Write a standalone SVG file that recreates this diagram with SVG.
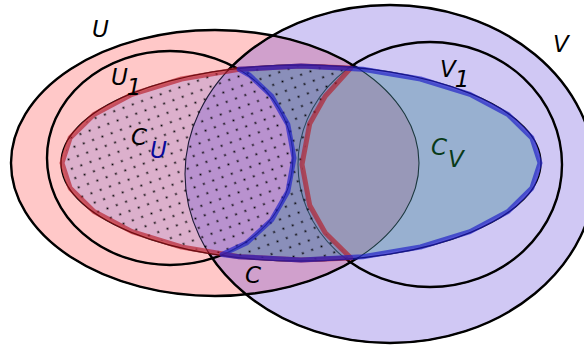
<svg xmlns="http://www.w3.org/2000/svg" width="584" height="347" viewBox="0 0 584 347">
<style>
.thin{fill:none;stroke:#000;stroke-width:1.1}
.thick{fill:none;stroke:#000;stroke-width:2.4}
.lbl{font-family:"DejaVu Sans",sans-serif;font-style:italic;font-size:23px;fill:#000}
.redband{fill:none;stroke:#b4141e;stroke-opacity:.62;stroke-width:5;stroke-linejoin:round}
.blueband{fill:none;stroke:#1e1ec8;stroke-opacity:.68;stroke-width:5;stroke-linejoin:round}
</style>
<defs>
<pattern id="dots" patternUnits="userSpaceOnUse" width="14" height="14" patternTransform="rotate(25)">
<circle cx="3.5" cy="3.5" r="1.05" fill="#000"/>
<circle cx="10.5" cy="10.5" r="1.05" fill="#000"/>
</pattern>
<mask id="outC" maskUnits="userSpaceOnUse" x="0" y="0" width="584" height="347">
<rect x="0" y="0" width="584" height="347" fill="#fff"/>
<ellipse cx="301" cy="163" rx="240" ry="98" fill="#000"/>
</mask>
</defs>

<g id="fills">
<ellipse id="U-fill" cx="215" cy="163" rx="204" ry="133" fill="#ffc8c8"/>
<ellipse id="V-fill" cx="390" cy="174" rx="205" ry="169" fill="#5235d6" fill-opacity="0.27"/>
</g>

<g id="thin-outlines">
<ellipse class="thin" cx="215" cy="163" rx="204" ry="133"/>
<ellipse class="thin" cx="390" cy="174" rx="205" ry="169"/>
<ellipse class="thin" cx="170" cy="158" rx="123" ry="107"/>
<ellipse class="thin" cx="430" cy="164.5" rx="132" ry="122.5"/>
</g>

<g id="C_U-region">
<polygon id="C_U-fill" points="350.7,68.1 301,66 239.1,69.3 181.5,79 132,94.4 94,114.5 70.1,137.9 62,163 70.1,188.1 94,211.5 132,231.6 181.5,247 239.1,256.7 301,260 350.7,257.9 325.2,232.8 309.7,205.2 302,164.5 309.7,123.8 325.2,96.2" fill="#756ad8" fill-opacity="0.255"/>
</g>
<g id="C_V-region">
<polygon id="C_V-fill" points="239.1,69.3 301,66 362.9,69.3 420.5,79 470,94.4 508,114.5 531.9,137.9 540,163 531.9,188.1 508,211.5 470,231.6 420.5,247 362.9,256.7 301,260 239.1,256.7 222,254.5 246.4,243.1 271.6,220 287.9,191.4 294,158 287.9,124.6 271.6,96 249.7,75.3" fill="#448c9a" fill-opacity="0.4"/>
</g>
<polygon id="C_U-dots" points="350.7,68.1 301,66 239.1,69.3 181.5,79 132,94.4 94,114.5 70.1,137.9 62,163 70.1,188.1 94,211.5 132,231.6 181.5,247 239.1,256.7 301,260 350.7,257.9 325.2,232.8 309.7,205.2 302,164.5 309.7,123.8 325.2,96.2" fill="url(#dots)"/>

<g id="thick-outlines" mask="url(#outC)">
<ellipse id="U" class="thick" cx="215" cy="163" rx="204" ry="133"/>
<ellipse id="V" class="thick" cx="390" cy="174" rx="205" ry="169"/>
<ellipse id="U1" class="thick" cx="170" cy="158" rx="123" ry="107"/>
<ellipse id="V1" class="thick" cx="430" cy="164.5" rx="132" ry="122.5"/>
</g>

<g id="C">
<ellipse cx="301" cy="163" rx="240" ry="98" fill="none" stroke="#000" stroke-width="1.4"/>
</g>

<g id="bands">
<polygon class="redband" points="350.7,68.1 301,66 239.1,69.3 181.5,79 132,94.4 94,114.5 70.1,137.9 62,163 70.1,188.1 94,211.5 132,231.6 181.5,247 239.1,256.7 301,260 350.7,257.9 325.2,232.8 309.7,205.2 302,164.5 309.7,123.8 325.2,96.2"/>
<polygon class="blueband" points="239.1,69.3 301,66 362.9,69.3 420.5,79 470,94.4 508,114.5 531.9,137.9 540,163 531.9,188.1 508,211.5 470,231.6 420.5,247 362.9,256.7 301,260 239.1,256.7 222,254.5 246.4,243.1 271.6,220 287.9,191.4 294,158 287.9,124.6 271.6,96 249.7,75.3"/>
</g>

<g id="labels">
<text class="lbl" x="92" y="37">U</text>
<text class="lbl" x="111" y="85">U<tspan dx="-1" dy="10">1</tspan></text>
<text class="lbl" x="553" y="52">V</text>
<text class="lbl" x="440" y="77">V<tspan dx="-1" dy="10">1</tspan></text>
<text class="lbl" x="131" y="145">C<tspan dx="3" dy="13" style="fill:#0a0a9a">U</tspan></text>
<text class="lbl" x="431" y="155" style="fill:#083a18">C<tspan dx="1" dy="12">V</tspan></text>
<text class="lbl" x="245" y="283">C</text>
</g>
</svg>
